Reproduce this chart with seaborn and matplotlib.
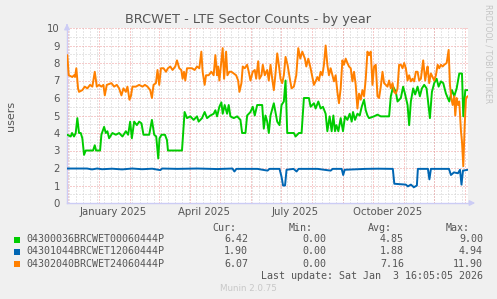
import numpy as np
import pandas as pd
import matplotlib
matplotlib.use("Agg")
import matplotlib.pyplot as plt
from matplotlib.patches import Rectangle
import seaborn as sns

# ---------------- data (days since start of the 400-day window) ----------------
start = pd.Timestamp("2024-11-29 16:05")

green_days = [0.3, 3.7, 5, 7, 8.7, 10.3, 12, 13.7, 15.3, 17, 18.7, 26, 27.7, 29, 33, 34.3, 37, 38.7, 40.3, 42,
              45.3, 48.7, 52, 55.3, 58.7, 61, 63, 64.7, 67, 69.7, 72, 74.3, 76.3, 82, 84.7, 87, 89, 91, 92.3, 94.3,
              97.7, 99.7, 100.7, 114.7, 117.3, 119.7, 123, 126.3, 129.7, 131.3, 134.7, 137.3, 139.7, 143, 146.3,
              148, 149.7, 152, 154, 155.3, 157.3, 159.7, 161.3, 163, 166.3, 169.7, 173, 174.7, 178, 179.7, 183,
              185.3, 187.3, 189.7, 192, 194.7, 196.3, 198, 199.7, 201.3, 203, 206.3, 209.7, 212, 214, 216.3, 218,
              219.7, 226.3, 228, 231.3, 234, 236.3, 241.3, 243, 246.3, 248, 250.7, 253, 255.3, 258, 259.7, 262,
              264, 265.7, 267.3, 268.7, 270.7, 273, 275.3, 277.3, 279.7, 282, 284, 285.3, 287.3, 289.7, 292, 294,
              296.3, 298, 299.7, 301.3, 306.3, 309.7, 313, 321.3, 323, 325.3, 328, 329.7, 333, 335.3, 337.3,
              339.7, 341.3, 343, 345.3, 347.3, 349.7, 352, 354, 356.3, 358.7, 360.7, 362, 364, 366.3, 368.7,
              370.7, 373, 375.3, 378, 381.3, 384, 386.3, 388.7, 391.3, 394, 395.3, 397.3, 399.7]
green_vals = [3.9, 3.8, 4.0, 3.8, 4.0, 4.85, 4.0, 4.0, 3.7, 2.75, 3.0, 3.0, 3.3, 3.0, 3.0, 3.9, 4.35, 4.0, 4.1, 3.7,
              4.0, 3.9, 4.0, 3.8, 4.1, 3.9, 4.65, 3.7, 4.65, 4.45, 4.65, 4.55, 3.9, 3.9, 4.75, 3.9, 3.8, 2.55, 3.7, 3.9,
              3.9, 3.6, 3.0, 3.0, 5.2, 4.85, 4.95, 4.75, 4.95, 4.65, 4.85, 5.2, 4.85, 5.0, 5.1,
              5.3, 4.95, 5.5, 5.75, 5.1, 5.6, 5.1, 5.6, 4.95, 4.85, 4.95, 4.75, 4.0, 4.0, 5.0, 5.2,
              5.5, 5.0, 5.6, 5.6, 5.6, 4.25, 5.0, 4.65, 4.0, 5.0, 5.7, 4.65, 4.45, 5.6, 5.8, 7.0,
              4.0, 4.0, 3.8, 4.0, 4.0, 6.0, 6.0, 5.5, 5.7, 5.4, 5.8, 5.4, 5.5, 5.1, 4.1, 4.95,
              4.1, 5.0, 4.1, 4.45, 4.1, 4.85, 4.1, 4.95, 4.75, 5.1, 4.65, 5.2, 4.75, 5.1, 5.0, 5.5,
              5.9, 5.3, 5.0, 4.85, 4.95, 5.05, 4.95, 4.95, 6.1, 6.65, 6.35, 5.8, 6.0, 6.65, 6.2,
              5.6, 4.45, 5.8, 6.55, 6.2, 6.65, 6.1, 6.55, 6.75, 6.55, 5.5, 4.85, 6.35, 6.85, 7.1,
              6.65, 6.95, 6.85, 6.25, 5.8, 6.45, 6.1, 6.55, 7.4, 7.4, 4.95, 6.45, 6.45]

blue_days = [0, 20, 25, 30, 35, 45, 55, 65, 75, 85, 93, 95, 110, 130, 150, 165, 167, 169, 190, 200, 202, 212,
             214, 215.5, 217.5, 219, 226, 229, 231, 250, 263, 265, 274, 275.5, 277, 298, 310, 325, 326.5, 338,
             340, 343, 346, 349, 350, 360, 361.5, 363, 381, 383, 386, 390, 392, 393.5, 395, 400]
blue_vals = [1.97, 1.97, 1.92, 1.97, 1.93, 1.96, 1.92, 1.97, 1.93, 1.96, 1.88, 1.97, 1.95, 1.97, 1.94, 1.97, 1.8,
             1.95, 1.95, 1.85, 1.95, 1.95, 1.5, 1.0, 1.0, 1.9, 1.95, 1.8, 1.95, 1.95, 1.85, 1.95, 1.95, 1.6, 1.9,
             1.95, 1.96, 1.95, 1.1, 1.05, 0.95, 1.05, 0.9, 1.0, 1.95, 1.95, 1.35, 1.95, 1.95, 1.6, 1.75, 1.7, 1.9,
             1.05, 1.85, 1.9]

orange_days = [0.3, 1.7, 5.3, 7, 8, 9.3, 11, 12, 15.3, 17.7, 20.3, 23, 25.3, 27.7, 29.7, 32, 34.3, 36.3, 37.7, 39.7,
               42, 44.3, 47, 49.7, 52, 54.3, 56.3, 58.7, 60.3, 62.3, 63.7, 65.3, 68.7, 72, 75.3, 77.7, 80.3, 83,
               84.7, 86.3, 88.7, 90.3, 92, 93.7, 96.3, 98.7, 100.7, 103, 105.3, 108, 109.7, 112, 114, 115.3, 116.7,
               118, 119.7, 122, 124.7, 127.3, 129.7, 132, 134, 135.3, 137.3, 138.7, 141.3, 144, 146.3, 148, 149.7,
               150.7, 152, 154, 155.3, 156.7, 158.7, 160, 162, 164, 166.3, 168.7, 170.7, 172, 174, 175.3, 177.3,
               179.7, 181.3, 183, 185.3, 187.3, 188.7, 190.7, 192, 194, 195.3, 197.3, 198.7, 199.7, 201.3, 203,
               204.7, 206.3, 208, 209.7, 211.3, 213, 214.7, 216.3, 218, 220, 222, 224, 226.3, 228.7, 230.7, 232.7,
               234.7, 237.3, 238.7, 240.7, 243, 244.7, 246.3, 248, 249.7, 251.3, 253, 254.7, 256.3, 258, 259.7,
               261.3, 263, 264.7, 266.3, 268, 269.7, 271.3, 273, 274.7, 276.3, 278, 279.7, 281.3, 283, 284.7,
               286.3, 288, 289.7, 291.3, 293, 294.7, 296.3, 298, 299.7, 301.3, 303, 304.7, 306.3, 308, 309.7,
               311.3, 313, 314.7, 316.3, 318, 319.7, 321.3, 323, 324.7, 326.3, 328, 329.7, 331.3, 333, 334.7,
               336.3, 338, 339.7, 341.3, 343, 344.7, 346.3, 348, 349.7, 351.3, 353, 355.3, 357.3, 358.7, 359.7,
               361.3, 363, 364.7, 366.3, 368, 369.7, 371.3, 373, 374.7, 376.3, 378.7, 380.7, 382, 383.3, 384.7,
               386.3, 387.3, 388.7, 390, 391.3, 393, 394, 395.3, 396.7, 398, 399.7]
orange_vals = [8.45, 7.3, 7.2, 7.3, 7.2, 7.7, 6.55, 6.35, 6.45, 6.65, 6.55, 6.75, 6.65, 7.5, 6.65, 6.75, 6.65, 6.75,
               6.15, 6.75, 6.8, 6.85, 6.65, 6.75, 6.55, 6.15, 6.55, 6.35, 6.65, 5.9, 6.1, 6.65, 6.65, 6.75, 6.65,
               6.75, 6.65, 6.45, 6.0, 6.75, 6.85, 7.6, 6.75, 7.7, 7.7, 7.5, 7.7, 7.8, 7.6, 7.8, 8.15, 7.7, 7.6, 7.1,
               7.5, 7.0, 7.7, 7.7, 7.7, 7.6, 7.8, 7.7, 8.65, 7.5, 6.75, 7.3, 7.3, 7.5, 7.3, 8.45, 7.3, 7.8, 7.0,
               8.1, 8.85, 7.1, 8.65, 7.3, 7.5, 7.5, 7.4, 7.3, 7.0, 6.35, 6.85, 7.8, 7.7, 7.9, 7.5, 7.0, 7.5, 7.6,
               7.1, 8.1, 7.1, 7.3, 7.9, 7.3, 7.5, 7.6, 7.0, 7.9, 7.1, 6.45, 7.4, 8.55, 7.9, 7.1, 6.85, 7.3, 8.35,
               7.9, 7.2, 6.55, 6.65, 7.3, 8.85, 8.25, 8.65, 8.25, 7.8, 8.25, 7.7, 7.2, 6.75, 6.95, 7.2, 7.0, 7.5,
               7.3, 7.9, 9.0, 7.9, 7.3, 7.7, 7.3, 6.95, 7.3, 6.35, 5.7, 6.55, 8.15, 7.9, 8.25, 8.0, 7.8, 7.7, 6.95,
               7.5, 6.75, 5.4, 6.25, 5.9, 6.45, 6.1, 7.1, 8.65, 8.45, 8.65, 6.75, 7.8, 7.9, 6.1, 6.0, 6.65, 7.5,
               6.85, 6.75, 6.65, 7.0, 6.55, 6.85, 6.35, 6.25, 6.55, 7.9, 7.9, 7.7, 8.0, 7.7, 7.0, 7.3, 6.95, 7.1,
               6.95, 7.5, 7.5, 7.0, 7.1, 8.15, 7.0, 7.5, 7.8, 6.85, 7.4, 7.2, 7.0, 7.3, 7.9, 7.7, 7.9, 7.8, 7.9,
               8.0, 8.75, 6.75, 6.0, 5.6, 6.1, 5.0, 6.0, 5.6, 5.8, 4.1, 3.5, 2.1, 4.45, 6.0, 6.1]

series_names = ["04300036BRCWET00060444P", "04301044BRCWET12060444P", "04302040BRCWET24060444P"]
series_colors = ["#00CC00", "#0066B3", "#FF8000"]
cur_vals = ["6.42", "1.90", "6.07"]
min_vals = ["0.00", "0.00", "0.00"]
avg_vals = ["4.85", "1.88", "7.16"]
max_vals = ["9.00", "4.94", "11.90"]
x_tick_labels = ["January 2025", "April 2025", "July 2025", "October 2025"]
y_ticks = list(range(0, 11))

frames = []
for name, days, vals in zip(series_names, [green_days, blue_days, orange_days],
                            [green_vals, blue_vals, orange_vals]):
    frames.append(pd.DataFrame({"date": start + pd.to_timedelta(np.array(days), unit="D"),
                                "users": vals, "series": name}))
df = pd.concat(frames, ignore_index=True)

# ---------------- styling ----------------
sns.set_style("white")
plt.rcParams["font.family"] = ["DejaVu Sans"]
W, H = 497, 299
fig = plt.figure(figsize=(W / 100, H / 100), dpi=100, facecolor="#F0F0F0")
L, R, T, B = 67, 468, 28, 203
ax = fig.add_axes([L / W, 1 - B / H, (R - L) / W, (B - T) / H])
ax.set_facecolor("white")

end = start + pd.Timedelta(days=400)
ax.set_xlim(start, end)
ax.set_ylim(0, 10)

# grids
grid_grey = "#CFCFCF"
grid_red = "#EE9A9A"
for yv in np.arange(0.5, 10, 1.0):
    ax.axhline(yv, color=grid_grey, lw=0.72, ls=(0, (1, 2)), zorder=0.5)
for yv in y_ticks:
    ax.axhline(yv, color=grid_red, lw=0.72, ls=(0, (1, 2)), zorder=0.6)
weeks = pd.date_range("2024-12-02", end, freq="7D")
for wd in weeks:
    ax.axvline(wd, color=grid_grey, lw=0.72, ls=(0, (1, 2)), zorder=0.5)
months = pd.date_range("2024-12-01", end, freq="MS")
for md in months:
    ax.axvline(md, color=grid_red, lw=0.72, ls=(0, (1, 2)), zorder=0.6)

sns.lineplot(data=df, x="date", y="users", hue="series", palette=series_colors,
             hue_order=series_names, legend=False, ax=ax, lw=1.4, zorder=3,
             estimator=None, sort=True)

ax.set_xlabel("")
ax.set_ylabel("")
lab_dates = [pd.Timestamp("2025-01-15"), pd.Timestamp("2025-04-15"),
             pd.Timestamp("2025-07-15"), pd.Timestamp("2025-10-15")]
ax.set_xticks(lab_dates)
ax.set_xticklabels(x_tick_labels)
ax.set_yticks(y_ticks)
ax.set_yticklabels([str(v) for v in y_ticks])
ax.tick_params(axis="both", length=0, labelsize=7.3, colors="#555555")
ax.tick_params(axis="x", pad=3)
ax.tick_params(axis="y", pad=5)

for s in ["top", "right"]:
    ax.spines[s].set_visible(False)
for s in ["left", "bottom"]:
    ax.spines[s].set_color("#CCCCF5")
    ax.spines[s].set_linewidth(1.0)

# axis arrows
ax.annotate("", xy=(1.025, 0), xytext=(1.0, 0), xycoords="axes fraction",
            arrowprops=dict(arrowstyle="-|>", color="#CCCCF5", lw=1.0, mutation_scale=8),
            annotation_clip=False)
ax.annotate("", xy=(0, 1.04), xytext=(0, 1.0), xycoords="axes fraction",
            arrowprops=dict(arrowstyle="-|>", color="#CCCCF5", lw=1.0, mutation_scale=8),
            annotation_clip=False)

def fx(px):
    return px / W

def fy(py):
    return 1 - py / H

txt = "#555555"
fig.text(fx(248), fy(19), "BRCWET - LTE Sector Counts - by year", ha="center", va="center",
         fontsize=9.3, color=txt)
fig.text(fx(11), fy(116), "users", ha="center", va="center", rotation=90, fontsize=8, color=txt)
fig.text(fx(488), fy(4), "RRDTOOL / TOBI OETIKER", ha="center", va="top", rotation=270,
         fontsize=5.6, color="#C4C4C4")

mono = dict(family="DejaVu Sans Mono", fontsize=7.2, color=txt, va="center")
fig.text(fx(236), fy(228), "Cur:", ha="right", **mono)
fig.text(fx(313), fy(228), "Min:", ha="right", **mono)
fig.text(fx(392), fy(228), "Avg:", ha="right", **mono)
fig.text(fx(470), fy(228), "Max:", ha="right", **mono)
row_y = [239.5, 251.5, 264]
for i, name in enumerate(series_names):
    yy = row_y[i]
    fig.patches.append(Rectangle((fx(14), fy(yy + 3)), 6 / W, 6 / H, transform=fig.transFigure,
                                 facecolor=series_colors[i], edgecolor="none"))
    fig.text(fx(26), fy(yy), name, ha="left", **mono)
    fig.text(fx(248), fy(yy), cur_vals[i], ha="right", **mono)
    fig.text(fx(326), fy(yy), min_vals[i], ha="right", **mono)
    fig.text(fx(404), fy(yy), avg_vals[i], ha="right", **mono)
    fig.text(fx(483), fy(yy), max_vals[i], ha="right", **mono)
fig.text(fx(483), fy(276), "Last update: Sat Jan  3 16:05:05 2026", ha="right", **mono)
fig.text(fx(248), fy(288.5), "Munin 2.0.75", ha="center", va="center", fontsize=6.3, color="#C8C8C8")

fig.savefig("out.png", dpi=100, facecolor=fig.get_facecolor())
